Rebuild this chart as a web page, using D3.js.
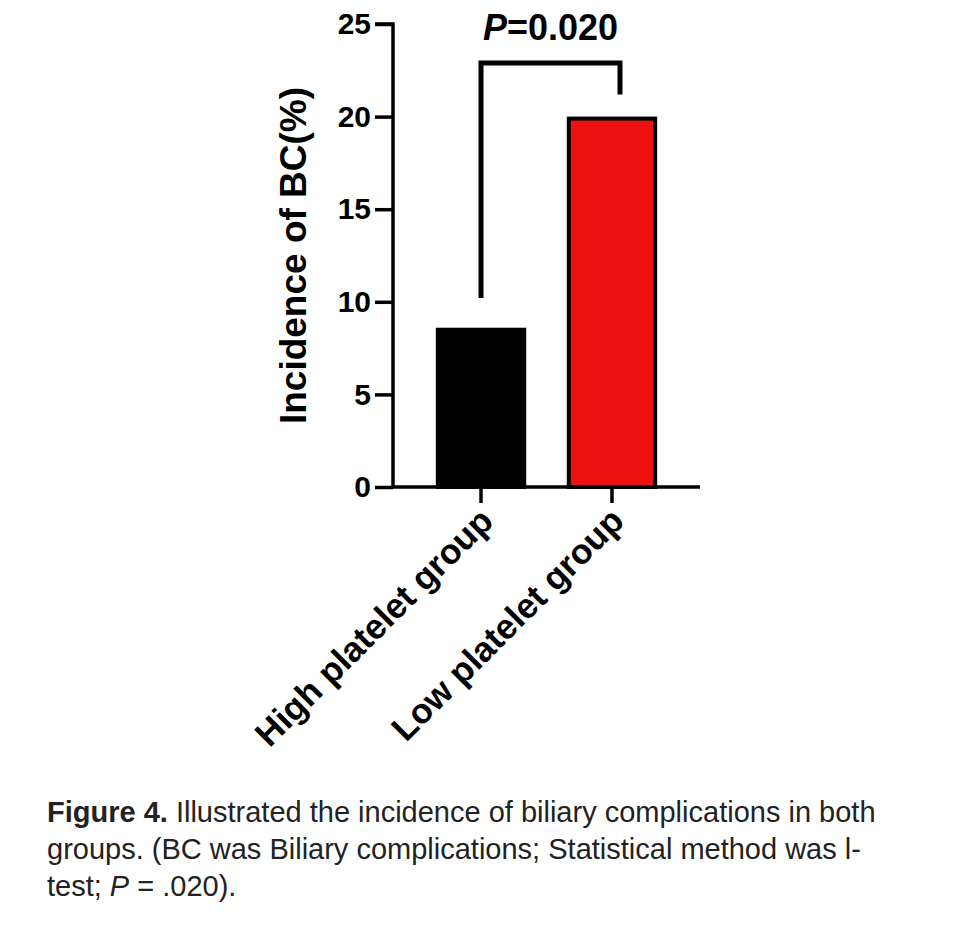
<!DOCTYPE html>
<html lang="en">
<head>
<meta charset="UTF-8">
<title>Incidence of BC</title>
<script src="https://d3js.org/d3.v7.min.js"></script>
<style>
  body { margin: 0; background: #fff; font-family: "Liberation Sans", Arial, sans-serif; }
</style>
</head>
<body>
<div id="chart"></div>
<script>
const groups = ["High platelet group", "Low platelet group"];
const values = [8.6, 20.0];
const colors = ["#000000", "#ee1111"];
const yTicks = [0, 5, 10, 15, 20, 25];

const width = 960, height = 929;
const svg = d3.select("#chart").append("svg").attr("width", width).attr("height", height);

const y = d3.scaleLinear().domain([0, 25]).range([487, 24]);
const x = d3.scaleBand().domain(groups).range([393, 700]).paddingInner(0.31).paddingOuter(0.327);

// y axis
const yAxis = svg.append("g").attr("transform", "translate(393,0)")
  .call(d3.axisLeft(y).tickValues(yTicks).tickSize(18).tickPadding(4));
yAxis.select(".domain").attr("stroke-width", 3.5).attr("d", `M-18,${y(25)}H0V${y(0)}`);
yAxis.selectAll(".tick line").attr("stroke-width", 3.5);
yAxis.selectAll("text").attr("font-size", 30).attr("font-weight", "bold")
  .attr("font-family", "Liberation Sans, Arial, sans-serif").attr("fill", "#000");

// x axis
const xAxis = svg.append("g").attr("transform", `translate(0,${y(0)})`)
  .call(d3.axisBottom(x).tickSize(16).tickFormat(""));
xAxis.select(".domain").attr("stroke-width", 3.5).attr("d", `M393,0H700`);
xAxis.selectAll(".tick line").attr("stroke-width", 3.5);

// bars
svg.selectAll("rect.bar").data(groups).join("rect")
  .attr("x", d => x(d) + 2)
  .attr("width", x.bandwidth() - 4)
  .attr("y", (d, i) => y(values[i]) + 2)
  .attr("height", (d, i) => y(0) - y(values[i]) - 2)
  .attr("fill", (d, i) => colors[i])
  .attr("stroke", "#000").attr("stroke-width", 4);

// category labels
svg.selectAll("text.cat").data(groups).join("text")
  .attr("transform", d => `translate(${x(d) + x.bandwidth() / 2 + 14},${y(0) + 36}) rotate(-45)`)
  .attr("text-anchor", "end")
  .attr("font-size", 35).attr("font-weight", "bold")
  .text(d => d);

// y title
svg.append("text")
  .attr("transform", `translate(306,${y(12.5)}) rotate(-90)`)
  .attr("text-anchor", "middle").attr("font-size", 37).attr("font-weight", "bold")
  .text("Incidence of BC(%)");

// significance bracket
const xl = x(groups[0]) + x.bandwidth() / 2, xr = x(groups[1]) + x.bandwidth() / 2 + 8;
svg.append("path")
  .attr("d", `M${xl},${y(10.2)}V${y(22.9)}H${xr}V${y(21.2)}`)
  .attr("fill", "none").attr("stroke", "#000").attr("stroke-width", 5);
const pt = svg.append("text").attr("x", (xl + xr) / 2).attr("y", 40)
  .attr("text-anchor", "middle").attr("font-size", 36).attr("font-weight", "bold");
pt.append("tspan").attr("font-style", "italic").text("P");
pt.append("tspan").text("=0.020");

// caption
const cap = svg.append("g").attr("font-size", 29).attr("fill", "#222");
const l1 = cap.append("text").attr("x", 47).attr("y", 822);
l1.append("tspan").attr("font-weight", "bold").text("Figure 4.");
l1.append("tspan").text(" Illustrated the incidence of biliary complications in both");
cap.append("text").attr("x", 47).attr("y", 859)
  .text("groups. (BC was Biliary complications; Statistical method was l-");
const l3 = cap.append("text").attr("x", 47).attr("y", 896);
l3.append("tspan").text("test; ");
l3.append("tspan").attr("font-style", "italic").text("P");
l3.append("tspan").text(" = .020).");
</script>
</body>
</html>
